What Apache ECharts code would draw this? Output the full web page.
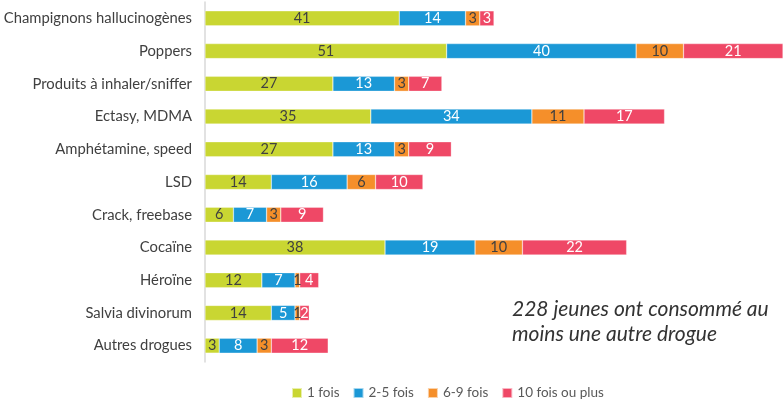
<!DOCTYPE html>
<html>
<head>
<meta charset="utf-8">
<script src="https://cdn.jsdelivr.net/npm/echarts@6/dist/echarts.min.js"></script>
<style>
  html, body { margin: 0; padding: 0; background: #fff; }
  #chart { width: 783px; height: 403px; }
</style>
</head>
<body>
<div id="chart"></div>
<script>
// Drug categories, top to bottom
const categories = [
  'Champignons hallucinogènes', 'Poppers', 'Produits à inhaler/sniffer',
  'Ectasy, MDMA', 'Amphétamine, speed', 'LSD', 'Crack, freebase',
  'Cocaïne', 'Héroïne', 'Salvia divinorum', 'Autres drogues'
];
const seriesNames = ['1 fois', '2-5 fois', '6-9 fois', '10 fois ou plus'];
const once = [41, 51, 27, 35, 27, 14, 6, 38, 12, 14, 3];
const twoToFive = [14, 40, 13, 34, 13, 16, 7, 19, 7, 5, 8];
const sixToNine = [3, 10, 3, 11, 3, 6, 3, 10, 1, 1, 3];
const tenPlus = [3, 21, 7, 17, 9, 10, 9, 22, 4, 2, 12];

const colors = ['#c9d632', '#1b98d6', '#f58f2a', '#ef4866'];
const labelColors = ['#404040', '#ffffff', '#404040', '#ffffff'];
const values = [once, twoToFive, sixToNine, tenPlus];

const chart = echarts.init(document.getElementById('chart'));

const series = seriesNames.map((name, i) => ({
  name: name,
  type: 'bar',
  stack: 'total',
  barWidth: 15,
  data: values[i],
  itemStyle: { color: colors[i], borderColor: 'rgba(255,255,255,0.6)', borderWidth: 0.5 },
  label: {
    show: true,
    position: 'inside',
    color: labelColors[i],
    fontFamily: 'Lato',
    fontSize: 14.5
  }
}));

chart.setOption({
  animation: false,
  textStyle: { fontFamily: 'Lato' },
  grid: { left: 205, right: 0, top: 2, bottom: 41 },
  xAxis: {
    type: 'value',
    min: 0,
    max: 122,
    show: false
  },
  yAxis: {
    type: 'category',
    inverse: true,
    data: categories,
    axisLine: { show: true, lineStyle: { color: '#d9d9d9', width: 1.5 } },
    axisTick: { show: false },
    axisLabel: { color: '#404040', fontSize: 14.8, margin: 13 }
  },
  legend: {
    bottom: 3,
    left: 291,
    padding: 0,
    itemWidth: 10,
    itemHeight: 10,
    itemGap: 13,
    icon: 'rect',
    textStyle: { color: '#595959', fontSize: 13.5 },
    data: seriesNames
  },
  graphic: [{
    type: 'text',
    left: 512,
    top: 297,
    style: {
      text: '228 jeunes ont consommé au\nmoins une autre drogue',
      font: 'italic 21px Lato',
      fill: '#333333',
      lineHeight: 25
    }
  }],
  series: series
});
</script>
</body>
</html>
